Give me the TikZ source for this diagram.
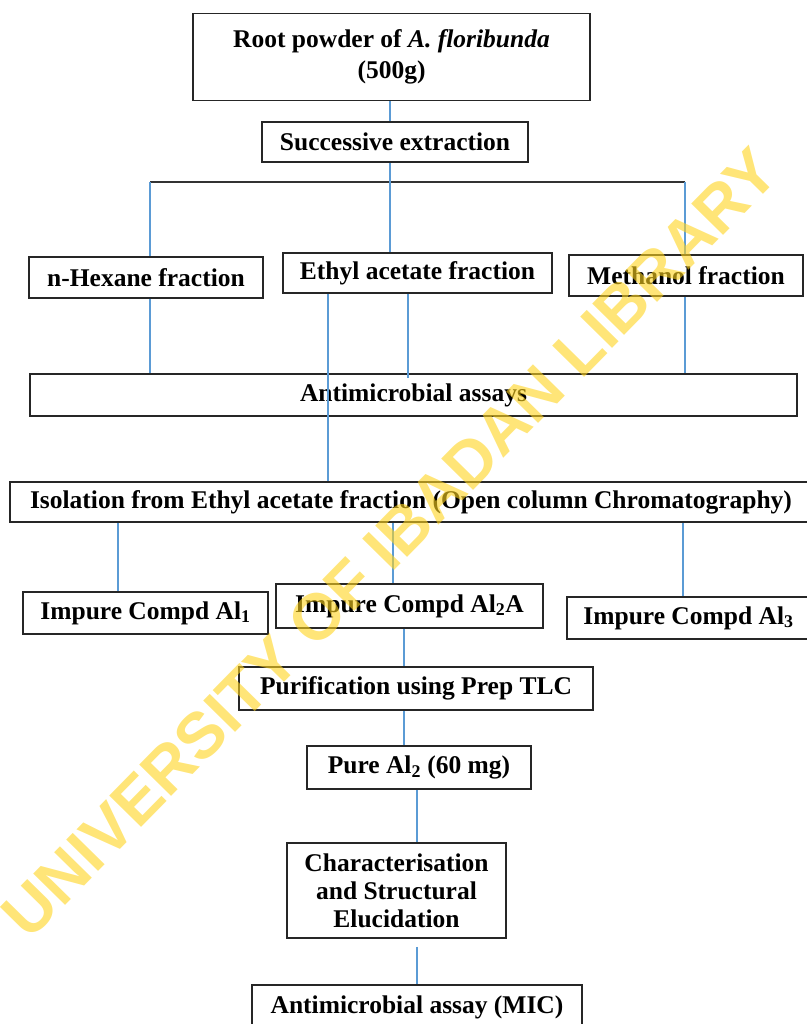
\documentclass[tikz,border=0pt]{standalone}
\usepackage{fontspec}
\setmainfont{Liberation Serif}
\newfontfamily\wmfont{Liberation Sans}
\usetikzlibrary{positioning}
\definecolor{linkblue}{RGB}{91,155,213}
\definecolor{wmyellow}{RGB}{255,212,30}
\tikzstyle{box} = [draw=black!85, line width=1.6pt, fill=white, inner sep=0pt, align=center,
  font=\bfseries\fontsize{25.5}{31}\selectfont]
\tikzstyle{link} = [draw=linkblue, line width=1.5pt]
\tikzstyle{bar} = [draw=black!80, line width=1.8pt]

\begin{document}
\begin{tikzpicture}[x=1pt, y=-1pt]
            \useasboundingbox (0,0) rectangle (806,1024);

            % Create the boxes of the flow chart
            \node[box, minimum width=397, minimum height=87] (root) at (391.5,57)
                {Root powder of \textit{A. floribunda}\\(500g)};
            \node[box, minimum width=266, minimum height=40] (succ) at (395,142) {Successive extraction};
            \node[box, minimum width=234, minimum height=41] (hex) at (146,277.5) {n-Hexane fraction};
            \node[box, minimum width=269, minimum height=40] (ethyl) at (417.5,273) {Ethyl acetate fraction};
            \node[box, minimum width=234, minimum height=41] (meth) at (686,275.5) {Methanol fraction};
            \node[box, minimum width=767, minimum height=42] (assays) at (413.5,395) {Antimicrobial assays};
            \node[box, minimum width=802, minimum height=40] (iso) at (411,502)
                {Isolation from Ethyl acetate fraction (Open column Chromatography)};
            \node[box, minimum width=245, minimum height=42] (imp1) at (145.5,613) {Impure Compd Al\textsubscript{1}};
            \node[box, minimum width=267, minimum height=44] (imp2) at (409.5,606) {Impure Compd Al\textsubscript{2}A};
            \node[box, minimum width=243, minimum height=42] (imp3) at (688.5,618) {Impure Compd Al\textsubscript{3}};
            \node[box, minimum width=354, minimum height=43] (purif) at (416,688.5) {Purification using Prep TLC};
            \node[box, minimum width=224, minimum height=43] (pure) at (419,767.5) {Pure Al\textsubscript{2} (60 mg)};
            \node[box, minimum width=219, minimum height=95, font=\bfseries\fontsize{25.5}{28}\selectfont] (charac) at (396.5,890.5)
                {Characterisation\\and Structural\\Elucidation};
            \node[box, minimum width=330, minimum height=45] (mic) at (417,1007.5) {Antimicrobial assay (MIC)};

            % Points where the lines run
            \coordinate (hl) at (150,182);
            \coordinate (hm) at (390,182);
            \coordinate (hr) at (685,182);
            \coordinate (e1) at (328,0);
            \coordinate (e2) at (408,0);
            \coordinate (i1) at (118,0);
            \coordinate (i2) at (393,0);
            \coordinate (i3) at (683,0);
            \coordinate (p1) at (404,0);
            \coordinate (p2) at (417,0);

            % Draw the lines between the boxes
            \draw[bar] (hl) -- (hr);
            \draw[link] (root.south -| hm) -- (succ.north -| hm);
            \draw[link] (succ.south -| hm) -- (ethyl.north -| hm);
            \draw[link] (hl) -- (hex.north -| hl);
            \draw[link] (hr) -- (meth.north -| hr);
            \draw[link] (hex.south -| hl) -- (assays.north -| hl);
            \draw[link] (ethyl.south -| e1) -- (iso.north -| e1);
            \draw[link] (ethyl.south -| e2) -- ([yshift=-5]assays.north -| e2);
            \draw[link] (meth.south -| hr) -- (assays.north -| hr);
            \draw[link] (iso.south -| i1) -- (imp1.north -| i1);
            \draw[link] (iso.south -| i2) -- (imp2.north -| i2);
            \draw[link] (iso.south -| i3) -- (imp3.north -| i3);
            \draw[link] (imp2.south -| p1) -- (purif.north -| p1);
            \draw[link] (purif.south -| p1) -- (pure.north -| p1);
            \draw[link] (pure.south -| p2) -- (charac.north -| p2);
            \draw[link] ([yshift=-8]charac.south -| p2) -- (mic.north -| p2);

            % Watermark across the chart
            \node[text=wmyellow, opacity=0.6, rotate=45.5, font=\wmfont\bfseries\fontsize{65}{65}\selectfont] (wm)
                at (390,543) {UNIVERSITY OF IBADAN LIBRARY};
        \end{tikzpicture}
\end{document}
